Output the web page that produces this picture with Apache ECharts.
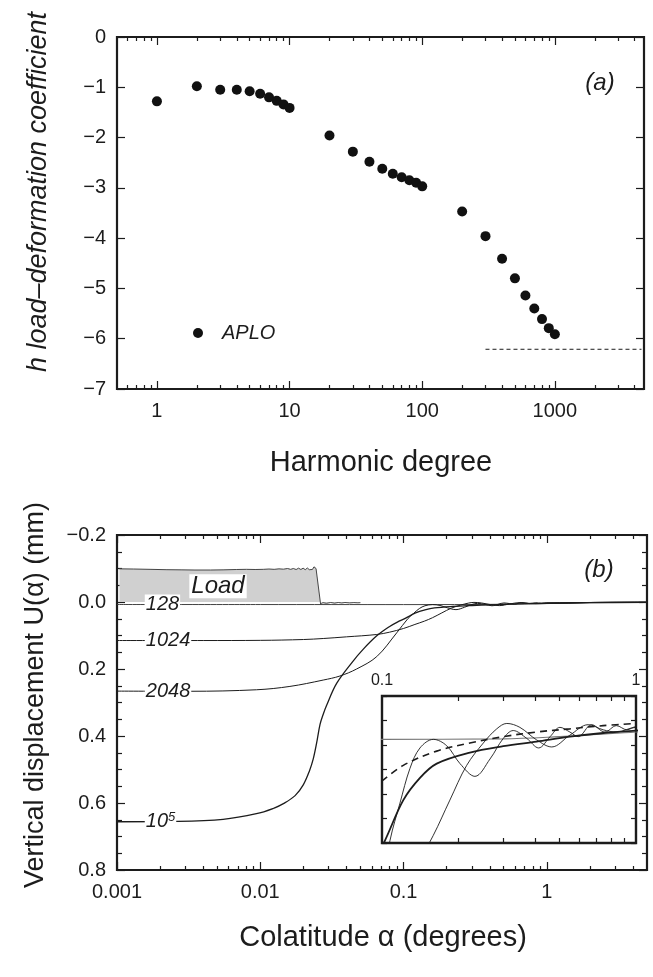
<!DOCTYPE html>
<html>
<head>
<meta charset="utf-8">
<script src="https://cdn.jsdelivr.net/npm/echarts@6/dist/echarts.min.js"></script>
<style>
  html, body { margin: 0; padding: 0; background: #fff; }
  #main { width: 653px; height: 977px; }
</style>
</head>
<body>
<div id="main"></div>
<script>
// ---- panel (a): h load-deformation coefficient ----
var degrees = [1, 2, 3, 4, 5, 6, 7, 8, 9, 10, 20, 30, 40, 50, 60, 70, 80, 90, 100,
               200, 300, 400, 500, 600, 700, 800, 900, 1000];
var hAplo = [-1.28, -0.98, -1.05, -1.05, -1.08, -1.13, -1.20, -1.27, -1.34, -1.41,
             -1.96, -2.28, -2.48, -2.62, -2.72, -2.79, -2.85, -2.90, -2.97,
             -3.47, -3.96, -4.41, -4.80, -5.14, -5.40, -5.61, -5.79, -5.91];
var hInfDegrees = [300, 4500];
var hInf = -6.21;
var degreeTicks = [1, 10, 100, 1000];

// ---- panel (b): vertical displacement ----
var loadAlpha = [0.00104, 0.0013, 0.0017, 0.0022, 0.0028, 0.0035, 0.0045, 0.0055, 0.0068, 0.008,
                 0.0092, 0.0105, 0.0115, 0.0125, 0.0135, 0.0145, 0.0155, 0.0163, 0.017, 0.0178,
                 0.0185, 0.0192, 0.0199, 0.0206, 0.0213, 0.022, 0.0226, 0.0231, 0.0237, 0.0241,
                 0.0245, 0.0264, 0.0272, 0.029, 0.031, 0.033, 0.035, 0.037, 0.039, 0.042,
                 0.045, 0.048, 0.05];
var loadU = [-0.099, -0.0985, -0.0975, -0.0965, -0.096, -0.0955, -0.0955, -0.096, -0.097, -0.0975,
             -0.097, -0.0975, -0.0985, -0.0975, -0.099, -0.098, -0.100, -0.0975, -0.100, -0.097,
             -0.101, -0.097, -0.101, -0.0965, -0.1015, -0.0965, -0.102, -0.097, -0.105, -0.107,
             -0.100, 0.0087, 0.002, 0.004, 0.0015, 0.0035, 0.0015, 0.003, 0.0015, 0.0028,
             0.0018, 0.0025, 0.002];

var alpha128 = [0.001, 0.01, 0.1, 0.3, 0.5, 0.7, 1.0, 2, 5];
var u128 = [0.0075, 0.0076, 0.0077, 0.0075, 0.0066, 0.0057, 0.0047, 0.0022, 0.0005];

var alpha1024 = [0.001, 0.004, 0.01, 0.02, 0.0275, 0.04, 0.065, 0.08, 0.1, 0.12, 0.14, 0.159,
                 0.185, 0.2155, 0.2505, 0.283, 0.31, 0.349, 0.406, 0.466, 0.549, 0.6485, 0.7425,
                 0.838, 1.0, 1.3, 2, 5];
var u1024 = [0.115, 0.115, 0.1145, 0.112, 0.109, 0.104, 0.097, 0.09, 0.079, 0.067, 0.057, 0.047,
             0.0325, 0.0183, 0.0092, 0.0034, 0.0012, 0.0028, 0.0079, 0.0108, 0.006, 0.0017, 0.0038,
             0.0047, 0.0028, 0.003, 0.0015, 0.0005];

var alpha2048 = [0.001, 0.0032, 0.0094, 0.0161, 0.0275, 0.0359, 0.047, 0.065, 0.0896, 0.1075,
                 0.1177, 0.1289, 0.1411, 0.1593, 0.1798, 0.2028, 0.2322, 0.2663, 0.3003, 0.3285,
                 0.3714, 0.4137, 0.4589, 0.5019, 0.549, 0.5922, 0.6686, 0.7541, 0.8378, 0.9209,
                 1.0, 1.5, 2.5, 5];
var u2048 = [0.266, 0.2665, 0.262, 0.252, 0.233, 0.221, 0.2, 0.163, 0.092, 0.049,
             0.0337, 0.0195, 0.0112, 0.0077, 0.0103, 0.0176, 0.0228, 0.0157, 0.0073, 0.0041,
             0.0073, 0.0112, 0.0066, 0.0028, 0.0047, 0.0066, 0.0017, 0.0047, 0.0021, 0.0038,
             0.0025, 0.002, 0.001, 0.0005];

var alpha1e5 = [0.001, 0.0026, 0.0055, 0.0094, 0.0125, 0.0145, 0.0175, 0.02, 0.022, 0.0234,
                0.0247, 0.0261, 0.0275, 0.029, 0.0341, 0.0443, 0.052, 0.065, 0.08, 0.0905,
                0.1027, 0.1213, 0.1411, 0.1642, 0.2218, 0.3003, 0.4062, 0.549, 0.7425, 1.0, 2, 5];
var u1e5 = [0.656, 0.655, 0.649, 0.632, 0.615, 0.602, 0.578, 0.545, 0.505, 0.469,
            0.422, 0.366, 0.335, 0.309, 0.243, 0.177, 0.142, 0.101, 0.073, 0.06,
            0.049, 0.0325, 0.0234, 0.0176, 0.0131, 0.0105, 0.0086, 0.0066, 0.0051, 0.0041, 0.002, 0.001];

// dashed curve, inset only
var alphaDash = [0.1, 0.1213, 0.1642, 0.2218, 0.3003, 0.4062, 0.549, 0.7425, 1.0];
var uDash = [0.0247, 0.0183, 0.0125, 0.0092, 0.0066, 0.0047, 0.0034, 0.0021, 0.0012];

var alphaTicks = [0.001, 0.01, 0.1, 1];
var insetTicks = [0.1, 1];

var ink = '#1c1c1c';
var font = '"Liberation Sans", Arial, Helvetica, sans-serif';

function zip(xs, ys) {
  return xs.map(function (x, i) { return [x, ys[i]]; });
}
function minorLog(lo, hi) {
  var out = [];
  for (var d = Math.floor(Math.log10(lo)); d <= Math.ceil(Math.log10(hi)); d++) {
    for (var k = 2; k <= 9; k++) {
      var v = +(k * Math.pow(10, d)).toPrecision(6);
      if (v > lo && v < hi) out.push(v);
    }
  }
  return out;
}
function minus(s) { return String(s).replace('-', '\u2212'); }

function xLog(grid, pos, min, max, ticks, len, labels, size, margin) {
  return {
    type: 'log', gridIndex: grid, position: pos, min: min, max: max,
    axisLine: { show: false, onZero: false },
    axisTick: { show: true, inside: true, length: len, customValues: ticks,
                lineStyle: { color: ink, width: 1.2 } },
    axisLabel: labels ? { show: true, customValues: labels, fontSize: size, margin: margin,
                          color: ink, fontFamily: font,
                          formatter: function (v) { return String(v); } }
                      : { show: false },
    splitLine: { show: false }
  };
}
function yVal(grid, pos, min, max, interval, len, label, minor, inverse) {
  return {
    type: 'value', gridIndex: grid, position: pos, min: min, max: max, interval: interval,
    inverse: !!inverse,
    axisLine: { show: false, onZero: false },
    axisTick: { show: len > 0, inside: true, length: len, lineStyle: { color: ink, width: 1.2 } },
    minorTick: minor ? { show: true, splitNumber: minor.split, length: minor.len,
                         lineStyle: { color: ink, width: 1.2 } } : { show: false },
    axisLabel: label ? { show: true, fontSize: 20, margin: 11, color: ink, fontFamily: font,
                         formatter: label } : { show: false },
    splitLine: { show: false }
  };
}

var degMinor = minorLog(0.5, 4700);
var alphaMinor = minorLog(0.001, 5);
var insetMinor = minorLog(0.1, 1);

function curve(name, xs, ys, xi, yi, width, extra) {
  var s = {
    name: name, type: 'line', xAxisIndex: xi, yAxisIndex: yi,
    data: zip(xs, ys), showSymbol: false, symbol: 'none', smooth: 0.35,
    lineStyle: { color: ink, width: width }, z: 3
  };
  for (var k in extra) s[k] = extra[k];
  return s;
}
function curveLabel(x, y, text, rich) {
  return {
    symbol: 'rect', symbolSize: 1, silent: true, itemStyle: { color: 'rgba(0,0,0,0)' },
    data: [{ coord: [x, y], label: {
      show: true, position: 'right', distance: 0, formatter: text,
      fontSize: 20, fontStyle: 'italic', fontFamily: font, color: ink,
      backgroundColor: '#fff', padding: [0, 1], rich: rich || {}
    } }]
  };
}
var labelAt = 0.00155;

var chart = echarts.init(document.getElementById('main'));
chart.setOption({
  animation: false,
  backgroundColor: '#fff',
  grid: [
    { left: 117, top: 37, width: 527, height: 352, show: true, borderColor: ink, borderWidth: 2.2 },
    { left: 117, top: 535, width: 530, height: 335, show: true, borderColor: ink, borderWidth: 2.2 },
    { left: 382, top: 696, width: 254, height: 147, show: true, borderColor: ink, borderWidth: 2.4,
      backgroundColor: '#fff' }
  ],
  legend: {
    data: ['APLO'], left: 188, top: 318, icon: 'circle', itemWidth: 10, itemHeight: 10,
    textStyle: { fontSize: 20, fontStyle: 'italic', fontFamily: font, color: ink, padding: [0, 0, 0, 14] }
  },
  xAxis: [
    xLog(0, 'bottom', 0.5, 4700, degreeTicks, 8, degreeTicks, 20, 12),
    xLog(0, 'bottom', 0.5, 4700, degMinor, 4),
    xLog(0, 'top', 0.5, 4700, degreeTicks, 8),
    xLog(0, 'top', 0.5, 4700, degMinor, 4),
    xLog(1, 'bottom', 0.001, 5, alphaTicks, 8, alphaTicks, 20, 12),
    xLog(1, 'bottom', 0.001, 5, alphaMinor, 4),
    xLog(1, 'top', 0.001, 5, alphaTicks, 8),
    xLog(1, 'top', 0.001, 5, alphaMinor, 4),
    xLog(2, 'top', 0.1, 1, insetMinor, 5, insetTicks, 16, 7),
    xLog(2, 'bottom', 0.1, 1, insetMinor, 5)
  ],
  yAxis: [
    yVal(0, 'left', -7, 0, 1, 8, function (v) { return minus(v); }),
    yVal(0, 'right', -7, 0, 1, 8),
    yVal(1, 'left', -0.2, 0.8, 0.2, 8, function (v) { return minus(v.toFixed(1)); },
         { split: 4, len: 5 }, true),
    yVal(1, 'right', -0.2, 0.8, 0.2, 8, null, { split: 4, len: 5 }, true),
    yVal(2, 'left', -0.01, 0.05, 0.01, 5, null, null, true),
    yVal(2, 'right', -0.01, 0.05, 0.01, 5, null, null, true)
  ],
  series: [
    {
      name: 'APLO', type: 'scatter', xAxisIndex: 0, yAxisIndex: 0,
      data: zip(degrees, hAplo), symbol: 'circle', symbolSize: 10,
      itemStyle: { color: '#111', opacity: 1 }, z: 4
    },
    {
      name: 'h infinity', type: 'line', xAxisIndex: 0, yAxisIndex: 0,
      data: zip(hInfDegrees, [hInf, hInf]), showSymbol: false, symbol: 'none',
      lineStyle: { color: ink, width: 1, type: [4, 3] }
    },
    {
      name: 'Load', type: 'line', xAxisIndex: 4, yAxisIndex: 2,
      data: zip(loadAlpha, loadU), showSymbol: false, symbol: 'none',
      lineStyle: { color: '#333', width: 0.9 },
      areaStyle: { color: '#d0d0d0', opacity: 1 }, z: 2,
      markPoint: {
        symbol: 'rect', symbolSize: 1, silent: true, itemStyle: { color: 'rgba(0,0,0,0)' },
        data: [{ coord: [0.00507, -0.047], label: {
          show: true, position: 'inside', formatter: 'Load', fontSize: 24, fontStyle: 'italic',
          fontFamily: font, color: ink, backgroundColor: '#fff', padding: [0, 2]
        } }]
      }
    },
    curve('128', alpha128, u128, 4, 2, 1, { lineStyle: { color: '#444', width: 1 },
          markPoint: curveLabel(labelAt, u128[0], '128') }),
    curve('1024', alpha1024, u1024, 4, 2, 1, { markPoint: curveLabel(labelAt, u1024[0], '1024') }),
    curve('2048', alpha2048, u2048, 4, 2, 1, { markPoint: curveLabel(labelAt, u2048[0], '2048') }),
    curve('1e5', alpha1e5, u1e5, 4, 2, 1.3, { markPoint: curveLabel(labelAt, u1e5[0], '{b|10}{s|5}', {
          b: { fontSize: 20, fontStyle: 'italic', fontFamily: font, color: ink, lineHeight: 22 },
          s: { fontSize: 13, fontStyle: 'italic', fontFamily: font, color: ink, verticalAlign: 'top', lineHeight: 22 }
        }) }),
    // inset
    curve('128 inset', alpha128, u128, 8, 4, 1, { lineStyle: { color: '#777', width: 1.1 }, z: 6 }),
    curve('1024 inset', alpha1024, u1024, 8, 4, 0.9, { z: 6 }),
    curve('2048 inset', alpha2048, u2048, 8, 4, 0.9, { z: 6 }),
    curve('1e5 inset', alpha1e5, u1e5, 8, 4, 1.8, { z: 6 }),
    curve('dash inset', alphaDash, uDash, 8, 4, 1.6, { lineStyle: { color: ink, width: 1.6, type: [7, 5] }, z: 6 })
  ],
  graphic: [
    { type: 'text', x: 38, y: 192, rotation: Math.PI / 2,
      style: { text: 'h load\u2013deformation coefficient', font: 'italic 27px ' + font,
               textAlign: 'center', textVerticalAlign: 'middle', align: 'center', verticalAlign: 'middle', fill: ink } },
    { type: 'text', x: 381, y: 463,
      style: { text: 'Harmonic degree', font: '29px ' + font,
               textAlign: 'center', textVerticalAlign: 'middle', align: 'center', verticalAlign: 'middle', fill: ink } },
    { type: 'text', x: 36, y: 695, rotation: Math.PI / 2,
      style: { text: 'Vertical displacement U(\u03b1) (mm)', font: '27px ' + font,
               textAlign: 'center', textVerticalAlign: 'middle', align: 'center', verticalAlign: 'middle', fill: ink } },
    { type: 'text', x: 383, y: 938,
      style: { text: 'Colatitude \u03b1 (degrees)', font: '29px ' + font,
               textAlign: 'center', textVerticalAlign: 'middle', align: 'center', verticalAlign: 'middle', fill: ink } },
    { type: 'text', x: 600, y: 83,
      style: { text: '(a)', font: 'italic 24px ' + font,
               textAlign: 'center', textVerticalAlign: 'middle', align: 'center', verticalAlign: 'middle', fill: ink } },
    { type: 'text', x: 599, y: 570,
      style: { text: '(b)', font: 'italic 24px ' + font,
               textAlign: 'center', textVerticalAlign: 'middle', align: 'center', verticalAlign: 'middle', fill: ink } }
  ]
});
</script>
</body>
</html>
